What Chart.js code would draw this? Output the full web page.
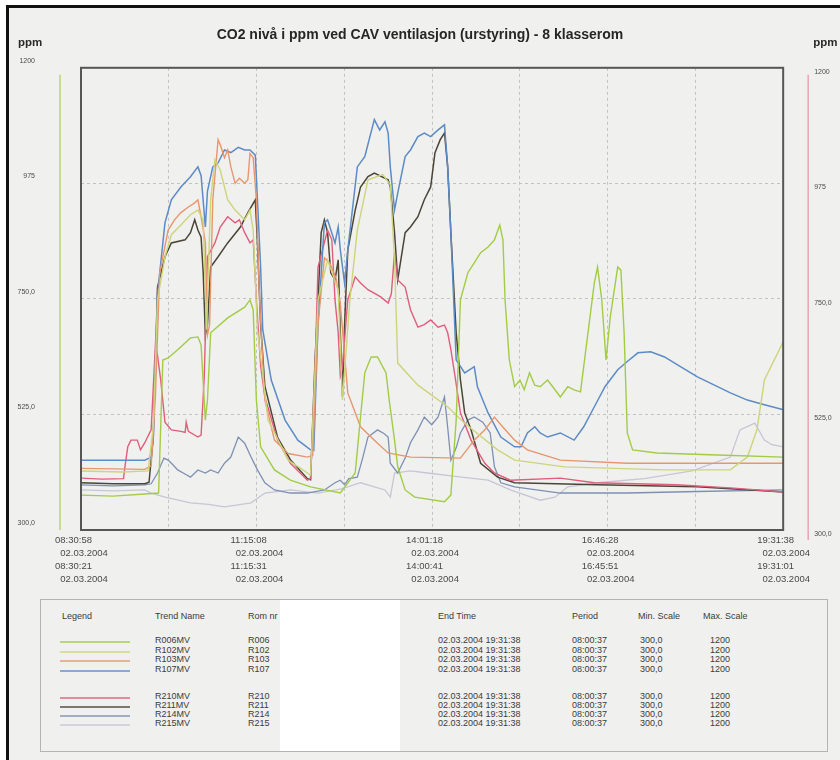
<!DOCTYPE html>
<html><head><meta charset="utf-8">
<script src="https://cdn.jsdelivr.net/npm/chart.js@4.4.1/dist/chart.umd.min.js"></script>
<style>
html,body{margin:0;padding:0;background:#fff;}
#page{position:relative;width:840px;height:760px;overflow:hidden;background:#fff;font-family:"Liberation Sans",Arial,sans-serif;}
#paper{position:absolute;left:6px;top:5px;right:0;bottom:0;background:#f0f0ee;border-left:3px solid #111;border-top:3px solid #111;}
#chartWrap{position:absolute;left:0;top:0;width:840px;height:590px;}
#legendBox{position:absolute;left:40px;top:599px;width:788px;height:153px;border:1px solid #b4b4b4;box-sizing:border-box;}
.cell{position:absolute;font-size:9px;color:#3c3c3c;white-space:nowrap;line-height:9px;}
.swatch{position:absolute;height:1.6px;}
#redact{position:absolute;left:280px;top:600px;width:120px;height:151px;background:#fff;}
</style></head><body>
<div id="page"><div id="paper"></div>
<div id="chartWrap"><canvas id="c" width="840" height="590"></canvas></div>
<div id="legendBox"></div>
<div id="legendCells"></div>
<div id="redact"></div>
</div>
<script>
// ---------- DATA ----------
const titleText = "CO2 nivå i ppm ved CAV ventilasjon (urstyring) - 8 klasserom";
const spanMinutes = 660.67; // 08:30:58 -> 19:31:38
const timeLabelsTop = ["08:30:58","11:15:08","14:01:18","16:46:28","19:31:38"];
const timeLabelsBottom = ["08:30:21","11:15:31","14:00:41","16:45:51","19:31:01"];
const dateLabel = "02.03.2004";
const yTickValues = [300, 525, 750, 975, 1200];
const yTickLabels = ["300,0","525,0","750,0","975","1200"];

const trendNames = ["R006MV","R102MV","R103MV","R107MV","R210MV","R211MV","R214MV","R215MV"];
const roomNos = ["R006","R102","R103","R107","R210","R211","R214","R215"];
const endTime = "02.03.2004 19:31:38";
const periodText = "08:00:37";
const minScale = "300,0";
const maxScale = "1200";

// series: [minutes after 08:30:58, ppm]
const r006 = [[0,368],[30,366],[60,370],[73,372],[77,631],[82,635],[91,651],[103,674],[110,676],[113,660],[117,514],[119,553],[122,684],[138,713],[154,734],[159,748],[162,729],[165,553],[169,462],[182,417],[197,397],[216,384],[244,372],[258,411],[263,520],[267,606],[273,637],[279,637],[287,606],[290,553],[295,475],[298,423],[305,378],[314,364],[342,355],[348,368],[353,514],[357,748],[364,801],[370,820],[376,840],[383,851],[389,865],[394,894],[397,865],[399,748],[403,631],[408,579],[413,592],[417,573],[422,606],[427,582],[432,579],[439,592],[446,573],[451,559],[458,579],[464,573],[470,569],[477,684],[483,781],[486,812],[490,748],[494,631],[498,715],[505,812],[508,806],[511,684],[514,489],[519,456],[542,450],[599,446],[661,442]];
const r102 = [[0,415],[40,413],[63,415],[68,500],[72,748],[79,832],[85,875],[94,894],[103,914],[110,923],[115,904],[118,690],[122,943],[126,1021],[131,1001],[138,943],[145,923],[154,904],[159,923],[162,884],[166,690],[176,514],[195,436],[216,407],[223,748],[232,826],[242,767],[246,553],[253,748],[260,884],[270,982],[284,992],[291,972],[295,826],[298,625],[317,582],[345,540],[361,508],[392,456],[408,436],[455,423],[549,417],[611,417],[627,442],[636,495],[643,592],[661,668]];
const r103 = [[0,420],[60,418],[66,425],[70,560],[74,800],[82,884],[88,904],[94,918],[101,929],[107,937],[110,943],[113,910],[117,860],[119,680],[121,700],[124,943],[129,1060],[131,1050],[135,1025],[138,1040],[141,1007],[145,975],[149,985],[154,975],[157,982],[159,1033],[162,1025],[165,943],[168,748],[173,553],[182,475],[195,449],[213,442],[218,445],[223,700],[229,830],[234,820],[240,790],[244,740],[251,567],[263,501],[279,469],[289,450],[310,442],[357,440],[370,475],[380,495],[389,520],[395,505],[408,475],[420,456],[451,436],[514,430],[661,430]];
const r107 = [[0,436],[60,436],[66,442],[68,480],[72,760],[79,898],[85,943],[94,968],[103,988],[110,1007],[113,990],[117,890],[119,960],[124,1007],[129,1015],[135,1040],[141,1035],[148,1045],[154,1040],[159,1040],[164,1030],[166,943],[169,812],[171,690],[179,592],[192,514],[204,475],[216,456],[219,455],[223,700],[229,898],[232,904],[239,859],[242,890],[244,845],[248,781],[251,845],[260,1007],[267,1027],[276,1099],[281,1079],[286,1095],[289,1073],[291,1007],[295,923],[298,956],[305,1027],[310,1040],[317,1066],[323,1073],[329,1066],[336,1079],[342,1089],[345,1007],[348,879],[353,631],[361,606],[370,618],[373,579],[383,528],[395,481],[408,462],[414,462],[420,489],[427,501],[432,489],[439,481],[451,489],[464,475],[473,501],[483,540],[493,579],[505,612],[514,628],[524,645],[536,647],[549,637],[564,618],[580,598],[596,582],[611,567],[627,553],[643,544],[661,534]];
const r210 = [[0,401],[20,399],[40,400],[41,418],[44,462],[47,475],[53,475],[56,456],[60,470],[66,495],[70,660],[72,640],[75,592],[79,510],[85,495],[94,492],[98,490],[99,510],[101,492],[110,481],[113,485],[116,600],[119,832],[126,859],[131,890],[138,910],[145,898],[149,904],[154,879],[159,859],[162,865],[165,748],[169,620],[173,559],[185,475],[197,430],[213,397],[216,400],[220,600],[223,812],[232,884],[236,865],[239,748],[242,684],[244,600],[246,618],[251,748],[258,793],[263,781],[270,768],[282,754],[289,742],[292,760],[295,840],[298,787],[305,773],[310,729],[317,695],[323,700],[329,709],[336,695],[342,699],[345,684],[348,651],[352,598],[357,528],[367,475],[380,430],[389,411],[404,397],[451,401],[483,392],[560,388],[611,382],[661,374]];
const r211 = [[0,392],[30,390],[60,390],[64,393],[68,480],[72,773],[79,832],[85,859],[98,865],[103,879],[107,904],[110,884],[113,870],[115,800],[117,680],[119,700],[122,812],[129,832],[138,859],[150,890],[157,918],[164,943],[166,860],[169,700],[173,580],[185,480],[197,437],[213,400],[216,398],[220,620],[226,879],[229,904],[232,879],[235,801],[239,787],[242,826],[244,684],[246,560],[248,700],[251,845],[258,923],[263,968],[270,988],[276,995],[289,982],[291,968],[295,879],[298,787],[305,879],[310,890],[317,910],[323,943],[329,968],[333,1034],[338,1060],[342,1073],[345,1007],[348,879],[353,684],[357,592],[361,528],[367,495],[376,430],[392,403],[408,392],[486,388],[580,384],[661,374]];
const r214 = [[0,388],[30,386],[60,388],[66,390],[72,411],[78,440],[82,436],[86,428],[91,417],[97,410],[103,403],[110,417],[117,411],[122,417],[129,411],[135,430],[141,442],[148,481],[154,469],[160,442],[166,417],[173,392],[182,378],[197,372],[213,372],[229,378],[239,392],[244,397],[248,388],[252,400],[260,403],[265,440],[270,481],[279,495],[285,488],[289,481],[291,430],[298,411],[305,440],[310,470],[317,495],[323,520],[330,505],[336,520],[342,559],[345,500],[348,436],[353,460],[357,489],[364,514],[370,520],[378,510],[385,489],[389,423],[395,392],[408,384],[451,372],[514,372],[580,375],[661,378]];
const r215 = [[0,378],[30,376],[60,378],[66,372],[79,364],[103,353],[120,350],[135,345],[160,353],[173,372],[197,378],[223,372],[245,380],[263,392],[286,378],[291,364],[295,411],[310,415],[326,411],[350,405],[383,397],[404,378],[432,358],[446,364],[458,384],[486,392],[530,400],[575,415],[611,442],[620,495],[634,508],[643,475],[650,466],[661,462]];

const seriesData = [r006, r102, r103, r107, r210, r211, r214, r215];
const seriesColors = ["#a2cc44","#cdd57a","#e8956e","#5c8bc6","#e05d7c","#4a4536","#7d90b4","#c6c6d6"];
const seriesWidths = [1.4,1.4,1.4,1.5,1.4,1.5,1.3,1.3];

// ---------- CHART ----------
const FONT = "'Liberation Sans', Arial, sans-serif";
const datasets = seriesData.map((s, i) => ({
  label: trendNames[i],
  data: s.map(([x, y]) => ({x, y})),
  borderColor: seriesColors[i],
  borderWidth: seriesWidths[i],
  pointRadius: 0,
  tension: 0,
  fill: false
}));

const decor = {
  id: 'decor',
  afterDraw(chart) {
    const {ctx, chartArea: a} = chart;
    ctx.save();
    ctx.strokeStyle = '#565656';
    ctx.lineWidth = 2;
    ctx.strokeRect(a.left, a.top, a.right - a.left, a.bottom - a.top);
    ctx.lineWidth = 1.5;
    ctx.strokeStyle = '#b8d679';
    ctx.beginPath(); ctx.moveTo(a.left - 21, a.top + 7); ctx.lineTo(a.left - 21, a.bottom); ctx.stroke();
    ctx.strokeStyle = '#eba3b2';
    ctx.beginPath(); ctx.moveTo(a.right + 25, a.top + 7); ctx.lineTo(a.right + 25, a.bottom + 10); ctx.stroke();
    ctx.fillStyle = '#2a2a2a';
    ctx.font = "bold 11.5px " + FONT;
    ctx.textBaseline = 'middle';
    ctx.textAlign = 'left';
    ctx.fillText('ppm', 18, 43);
    ctx.fillText('ppm', a.right + 30, 43);
    ctx.restore();
  }
};

const yTicksBuild = axis => { axis.ticks = yTickValues.map(v => ({value: v})); };

new Chart(document.getElementById('c'), {
  type: 'line',
  data: {datasets},
  plugins: [decor],
  options: {
    responsive: false,
    animation: false,
    layout: {padding: 0},
    plugins: {
      legend: {display: false},
      tooltip: {enabled: false},
      title: {
        display: true, text: titleText, color: '#262626',
        font: {family: FONT, size: 14, weight: 'bold'},
        padding: {top: 27, bottom: 24}
      }
    },
    scales: {
      x: {
        type: 'linear', min: 0, max: spanMinutes,
        afterBuildTicks: axis => { axis.ticks = Array.from({length: 9}, (_, i) => ({value: i * spanMinutes / 8})); },
        afterFit: axis => { axis.height = 60; },
        grid: {color: '#c2c2c2', drawTicks: false, lineWidth: 1},
        border: {display: false, dash: [3, 3]},
        ticks: {
          autoSkip: false, maxRotation: 0, minRotation: 0, align: 'start', labelOffset: -26, padding: 4,
          color: '#4a4a4a', font: {family: FONT, size: 9.5, lineHeight: 1.37},
          callback: (v, i) => i % 2 === 0 ? [timeLabelsTop[i/2], '  ' + dateLabel, timeLabelsBottom[i/2], '  ' + dateLabel] : ''
        }
      },
      y: {
        min: 300, max: 1200,
        afterBuildTicks: yTicksBuild,
        afterFit: axis => { axis.width = 81; },
        grid: {color: '#c2c2c2', drawTicks: false, lineWidth: 1},
        border: {display: false, dash: [3, 3]},
        ticks: {padding: 46, labelOffset: -7, color: '#4a4a4a', font: {family: FONT, size: 7},
                callback: (v, i) => yTickLabels[i]}
      },
      y2: {
        position: 'right', min: 300, max: 1200,
        afterBuildTicks: yTicksBuild,
        afterFit: axis => { axis.width = 53; },
        grid: {display: false, drawTicks: false},
        border: {display: false},
        ticks: {padding: 31, labelOffset: 4, color: '#4a4a4a', font: {family: FONT, size: 7},
                callback: (v, i) => yTickLabels[i]}
      }
    }
  }
});

// ---------- LEGEND TABLE (HTML text) ----------
const cells = document.getElementById('legendCells');
function cell(text, x, y) {
  const d = document.createElement('div');
  d.className = 'cell'; d.textContent = text;
  d.style.left = x + 'px'; d.style.top = (y - 4.5) + 'px';
  cells.appendChild(d);
}
const headerY = 616;
const rowYs = [640, 650, 659, 669, 696, 705, 714, 723];
cell('Legend', 62, headerY); cell('Trend Name', 155, headerY); cell('Rom nr', 248, headerY);
cell('End Time', 438, headerY); cell('Period', 572, headerY); cell('Min. Scale', 638, headerY); cell('Max. Scale', 703, headerY);
trendNames.forEach((n, i) => {
  const y = rowYs[i];
  const sw = document.createElement('div');
  sw.className = 'swatch';
  sw.style.left = '60px'; sw.style.width = '70px'; sw.style.top = (y + 1) + 'px';
  sw.style.background = seriesColors[i]; sw.style.opacity = '0.7';
  cells.appendChild(sw);
  cell(n, 155, y); cell(roomNos[i], 248, y); cell(endTime, 438, y);
  cell(periodText, 572, y); cell(minScale, 640, y); cell(maxScale, 710, y);
});
</script>
</body></html>
